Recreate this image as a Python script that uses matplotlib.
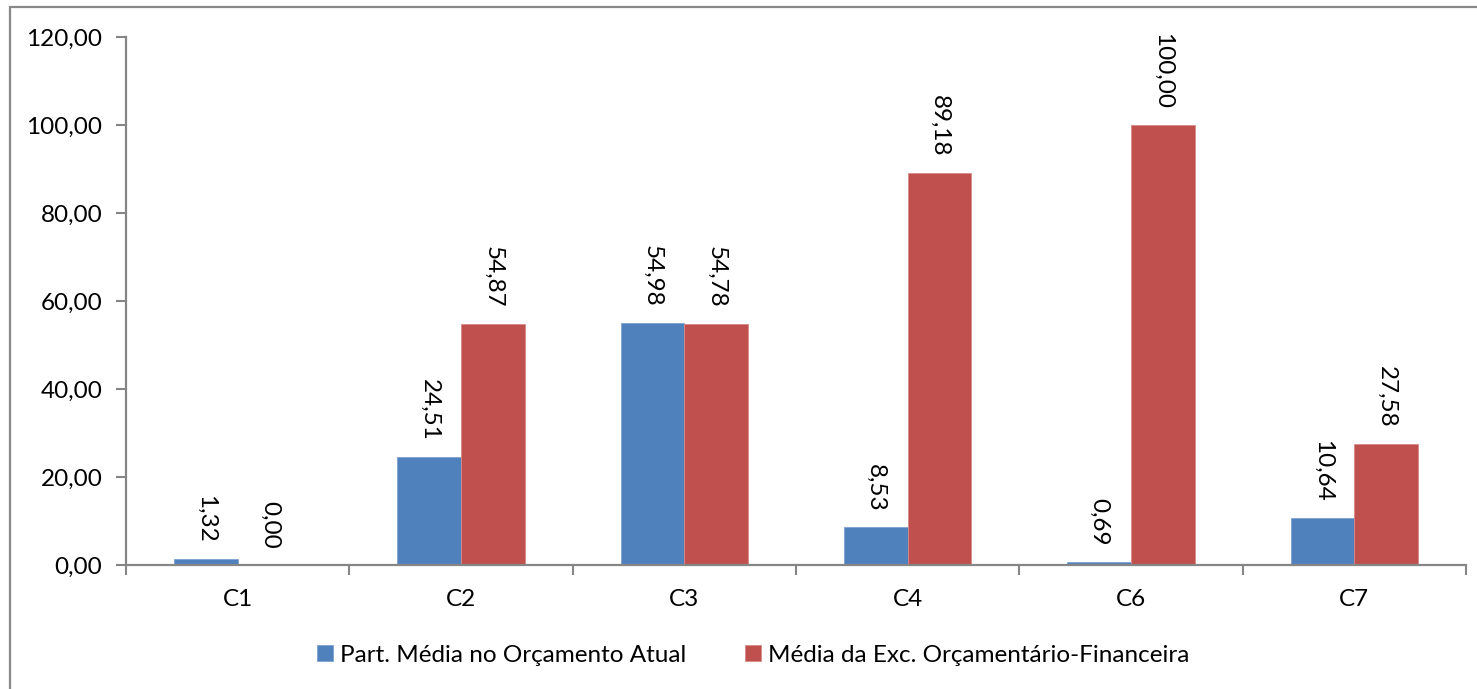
import matplotlib
matplotlib.use("Agg")
import numpy as np
import matplotlib.pyplot as plt
from matplotlib.patches import Rectangle
from matplotlib.ticker import FuncFormatter

# dados do gráfico
categorias = ["C1", "C2", "C3", "C4", "C6", "C7"]
part_media = [1.32, 24.51, 54.98, 8.53, 0.69, 10.64]
exec_media = [0.00, 54.87, 54.78, 89.18, 100.00, 27.58]
serie_labels = ["Part. Média no Orçamento Atual", "Média da Exc. Orçamentário-Financeira"]

AZUL = "#4F81BD"
VERMELHO = "#C0504D"
EIXO = "#868686"
FS = 17.5

plt.rcParams["font.family"] = ["Lato", "DejaVu Sans"]
plt.rcParams["font.size"] = FS


def br(v):
    return f"{v:.2f}".replace(".", ",")


fig = plt.figure(figsize=(14.77, 6.89), dpi=100)
ax = fig.add_axes((0.0853, 0.180, 0.9073, 0.7663))

x = np.arange(len(categorias))
w = 0.285
b1 = ax.bar(x - w / 2, part_media, w, color=AZUL, edgecolor="#7FA2D0", linewidth=0.6, label=serie_labels[0])
b2 = ax.bar(x + w / 2, exec_media, w, color=VERMELHO, edgecolor="#D88A88", linewidth=0.6, label=serie_labels[1])

for bars, vals in ((b1, part_media), (b2, exec_media)):
    for r, v in zip(bars, vals):
        ax.annotate(br(v), (r.get_x() + r.get_width() / 2, v),
                    xytext=(0, 11.5), textcoords="offset points",
                    rotation=270, ha="center", va="bottom", fontsize=FS)

ax.set_xlim(-0.5, len(categorias) - 0.5)
ax.set_ylim(0, 120)
ax.set_yticks(np.arange(0, 121, 20))
ax.yaxis.set_major_formatter(FuncFormatter(lambda v, _: br(v)))

# categorias no meio, marcas nas divisões
ax.set_xticks(x)
ax.set_xticklabels(categorias)
ax.set_xticks(np.arange(-0.5, len(categorias), 1), minor=True)
ax.tick_params(axis="x", which="major", length=0, pad=17)
ax.tick_params(axis="x", which="minor", length=7, width=1.5, color=EIXO, direction="out")
ax.tick_params(axis="y", length=7, width=1.5, color=EIXO, direction="out", pad=10)

for s in ("top", "right"):
    ax.spines[s].set_visible(False)
for s in ("left", "bottom"):
    ax.spines[s].set_color(EIXO)
    ax.spines[s].set_linewidth(1.6)

fig.legend(handles=[b1, b2], labels=serie_labels, loc="center",
           bbox_to_anchor=(0.51, 1 - 655 / 689), bbox_transform=fig.transFigure,
           ncol=2, frameon=False, handlelength=0.65, handleheight=0.65,
           handletextpad=0.3, columnspacing=2.4, fontsize=FS)

# moldura da área do gráfico
fig.patches.append(Rectangle((10 / 1477, -0.1), 1.2, 1 - 7 / 689 + 0.1,
                             transform=fig.transFigure, fill=False,
                             edgecolor="#888888", linewidth=1.6))

fig.savefig("out.png", dpi=100)
